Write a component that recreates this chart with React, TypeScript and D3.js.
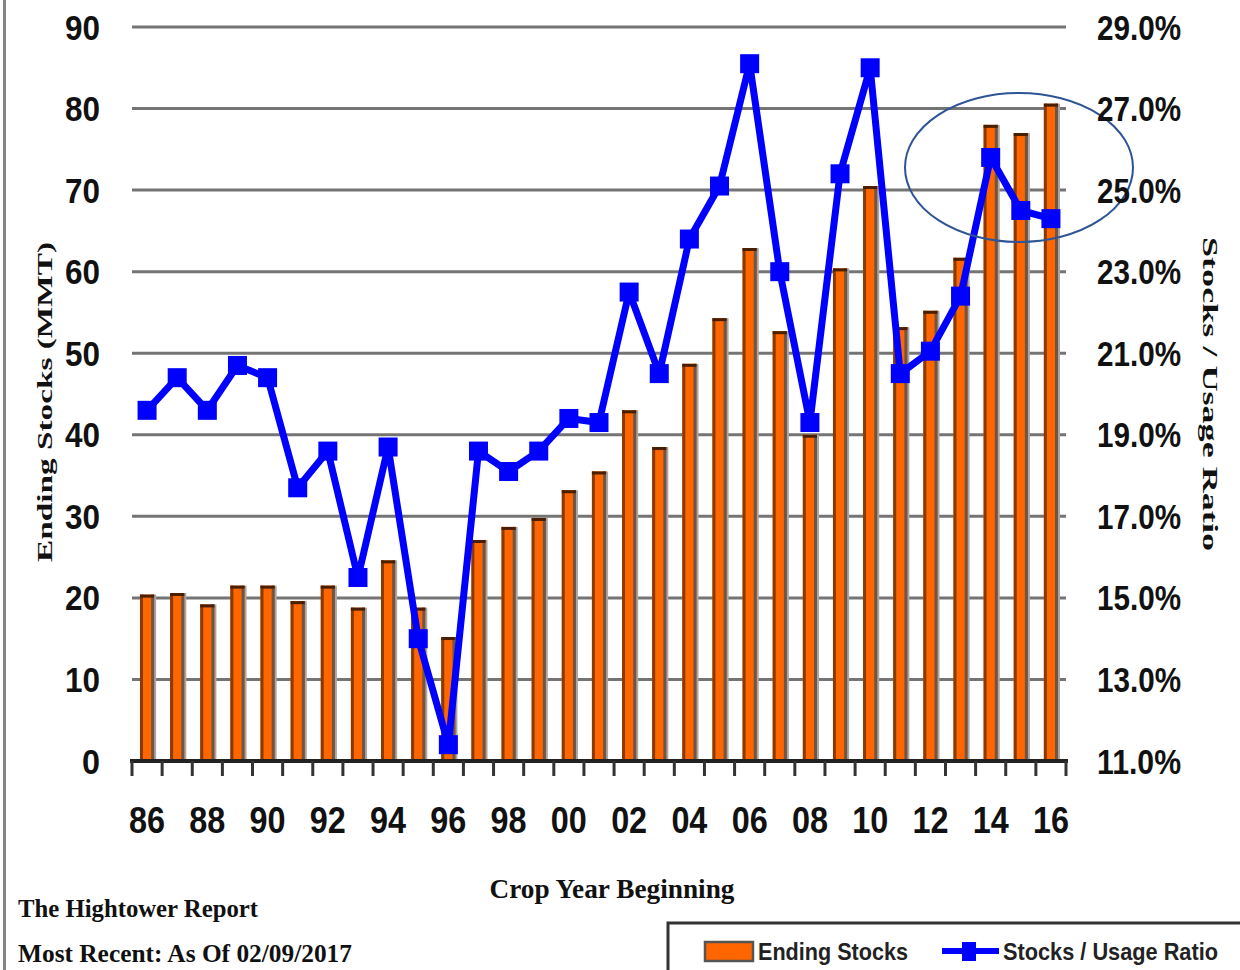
import React from "react";
import * as d3 from "d3";

const years = ["86","87","88","89","90","91","92","93","94","95","96","97","98","99","00","01","02","03","04","05","06","07","08","09","10","11","12","13","14","15","16"];
const tickYears = ["86","88","90","92","94","96","98","00","02","04","06","08","10","12","14","16"];
const endingStocks = [20.4,20.6,19.2,21.5,21.5,19.6,21.5,18.8,24.6,18.8,15.2,27.1,28.7,29.8,33.2,35.5,43.0,38.5,48.7,54.3,62.9,52.7,40.0,60.4,70.5,53.2,55.2,61.7,78.0,77.0,80.6];
const stocksUsage = [19.6,20.4,19.6,20.7,20.4,17.7,18.6,15.5,18.7,14.0,11.4,18.6,18.1,18.6,19.4,19.3,22.5,20.5,23.8,25.1,28.1,23.0,19.3,25.4,28.0,20.5,21.05,22.4,25.8,24.5,24.3];
const leftTicks = [0,10,20,30,40,50,60,70,80,90];
const rightTicks = [11,13,15,17,19,21,23,25,27,29];

const SANS = "'Liberation Sans', Arial, sans-serif";
const SERIF = "'Liberation Serif', 'DejaVu Serif', serif";

export default function App() {
  const left = 132, right = 1066, top = 27, bottom = 761;
  const x = d3.scaleBand<string>().domain(years).range([left, right]).paddingInner(0.53).paddingOuter(0.265);
  const step = (right - left) / years.length;
  const yL = d3.scaleLinear().domain([0, 90]).range([bottom, top]);
  const yR = d3.scaleLinear().domain([11, 29]).range([bottom, top]);
  const cx = (y: string) => (x(y) as number) + x.bandwidth() / 2;
  const line = d3.line<number>().x((_, i) => cx(years[i])).y((d) => yR(d));
  const bw = x.bandwidth();
  const ms = 19;

  return (
    <svg width={1240} height={970} style={{ position: "absolute", left: 0, top: 0, background: "#fff" }}>
      <rect x={0} y={0} width={1240} height={970} fill="#fff" />
      <line x1={4.5} x2={4.5} y1={0} y2={970} stroke="#858585" strokeWidth={3} />

      {leftTicks.filter((t) => t > 0).map((t) => (
        <line key={"g" + t} x1={left} x2={right} y1={yL(t)} y2={yL(t)} stroke="#747474" strokeWidth={3} />
      ))}

      {endingStocks.map((v, i) => {
        const bx = x(years[i]) as number;
        const by = yL(v);
        return (
          <g key={"b" + i}>
            <rect x={bx + 2} y={by} width={bw} height={bottom - by} fill="#a8a8a8" />
            <rect x={bx} y={by} width={bw} height={bottom - by} fill="#ff6600" />
            <rect x={bx} y={by} width={3} height={bottom - by} fill="#8a3a00" />
            <rect x={bx + bw - 3} y={by} width={3} height={bottom - by} fill="#6f5544" />
            <rect x={bx} y={by} width={bw} height={3} fill="#4a1e00" />
          </g>
        );
      })}

      <line x1={left - 2} x2={right + 2} y1={bottom} y2={bottom} stroke="#222" strokeWidth={4} />
      {d3.range(years.length + 1).map((i) => (
        <line key={"t" + i} x1={left + i * step} x2={left + i * step} y1={bottom} y2={bottom + 15} stroke="#333" strokeWidth={3} />
      ))}

      <path d={line(stocksUsage) || ""} fill="none" stroke="#0000ff" strokeWidth={7} strokeLinejoin="round" />
      {stocksUsage.map((v, i) => (
        <rect key={"m" + i} x={cx(years[i]) - ms / 2} y={yR(v) - ms / 2} width={ms} height={ms} fill="#0000ff" />
      ))}

      <ellipse cx={1019} cy={167.5} rx={114} ry={74.5} fill="none" stroke="#2f5496" strokeWidth={2} />

      {leftTicks.map((t) => (
        <text key={"lt" + t} x={100} y={yL(t)} dy="0.36em" textAnchor="end" fontFamily={SANS} fontWeight="bold" fontSize={35}
          textLength={t === 0 ? 18 : 35} lengthAdjust="spacingAndGlyphs" fill="#111">{t}</text>
      ))}
      {rightTicks.map((t) => (
        <text key={"rt" + t} x={1097} y={yR(t)} dy="0.36em" textAnchor="start" fontFamily={SANS} fontWeight="bold" fontSize={35}
          textLength={84} lengthAdjust="spacingAndGlyphs" fill="#111">{t.toFixed(1) + "%"}</text>
      ))}
      {tickYears.map((t) => (
        <text key={"xt" + t} x={cx(t)} y={833} textAnchor="middle" fontFamily={SANS} fontWeight="bold" fontSize={36}
          textLength={36} lengthAdjust="spacingAndGlyphs" fill="#111">{t}</text>
      ))}

      <text transform="translate(52,402) rotate(-90)" textAnchor="middle" fontFamily={SERIF} fontWeight="bold" fontSize={22} textLength={320} lengthAdjust="spacingAndGlyphs" fill="#111">Ending Stocks (MMT)</text>
      <text transform="translate(1203,394) rotate(90)" textAnchor="middle" fontFamily={SERIF} fontWeight="bold" fontSize={22} textLength={314} lengthAdjust="spacingAndGlyphs" fill="#111">Stocks / Usage Ratio</text>

      <text x={612} y={898} textAnchor="middle" fontFamily={SERIF} fontWeight="bold" fontSize={27} textLength={245} lengthAdjust="spacingAndGlyphs" fill="#111">Crop Year Beginning</text>
      <text x={18} y={917} fontFamily={SERIF} fontWeight="bold" fontSize={25} textLength={240} lengthAdjust="spacingAndGlyphs" fill="#111">The Hightower Report</text>
      <text x={18} y={962} fontFamily={SERIF} fontWeight="bold" fontSize={25} textLength={334} lengthAdjust="spacingAndGlyphs" fill="#111">Most Recent: As Of 02/09/2017</text>

      <rect x={668} y={923} width={600} height={80} fill="#fff" stroke="#333" strokeWidth={3} />
      <rect x={705} y={942} width={48} height={19} fill="#ff6600" stroke="#555" strokeWidth={2.5} />
      <text x={758} y={960} fontFamily={SANS} fontWeight="bold" fontSize={24} textLength={150} lengthAdjust="spacingAndGlyphs" fill="#222">Ending Stocks</text>
      <line x1={942} x2={999} y1={951} y2={951} stroke="#0000ff" strokeWidth={6} />
      <rect x={962} y={942} width={14} height={19} fill="#0000ff" />
      <text x={1003} y={960} fontFamily={SANS} fontWeight="bold" fontSize={24} textLength={215} lengthAdjust="spacingAndGlyphs" fill="#222">Stocks / Usage Ratio</text>
    </svg>
  );
}
